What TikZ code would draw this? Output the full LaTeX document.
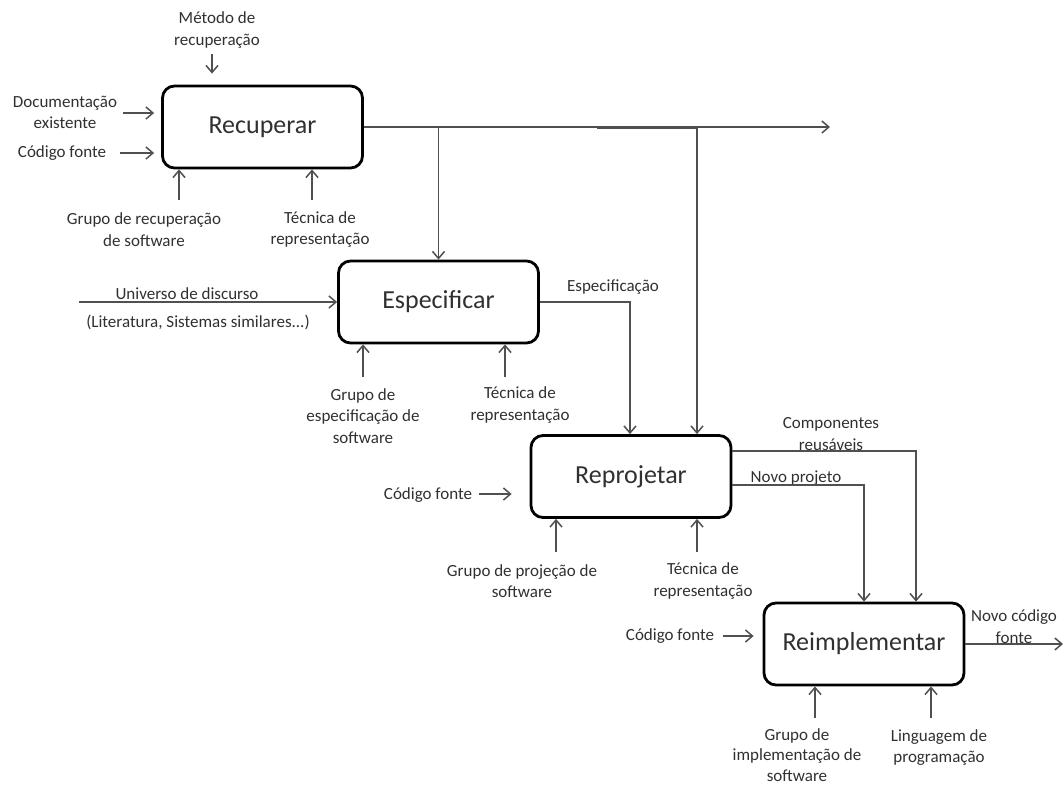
\documentclass[tikz,border=0pt]{standalone}
\usepackage{fontspec}
\setmainfont{Carlito}
\usetikzlibrary{arrows.meta}
\definecolor{conncol}{HTML}{505050}
\definecolor{txtcol}{HTML}{303030}
\tikzset{
  procbox/.style={draw=black, line width=2.8pt, rounded corners=12pt, fill=white,
    minimum width=200pt, minimum height=82pt, inner sep=0pt,
    font=\fontsize{26}{30}\selectfont, text=txtcol},
  lbl/.style={font=\fontsize{17}{21.5}\selectfont, text=txtcol, align=center, inner sep=0pt},
  conn/.style={draw=conncol, line width=1.5pt},
  arr/.style={conn, -{Straight Barb[length=7pt,width=12pt]}}
}
\begin{document}
\begin{tikzpicture}[x=1pt,y=-1pt]
\useasboundingbox (0,0) rectangle (1064,784);
% boxes
\node[procbox] (rec) at (262.5,127) {Recuperar};
\node[procbox] (esp) at (438.5,302) {Especificar};
\node[procbox] (rep) at (631,476.5) {Reprojetar};
\node[procbox] (rei) at (864,644) {Reimplementar};

% Recuperar inputs
\node[lbl] (lMet) at (217,30) {Método de\\recuperação};
\coordinate (mA) at (212,54);
\draw[arr, shorten >=11pt] (mA) -- (mA |- rec.north);
\node[lbl] (lDoc) at (65,112.5) {Documentação\\existente};
\coordinate (dA) at (123,113);
\draw[arr, shorten >=7pt] (dA) -- (dA -| rec.west);
\node[lbl] (lCod1) at (62,153) {Código fonte};
\coordinate (cA) at (120,153);
\draw[arr, shorten >=7pt] (cA) -- (cA -| rec.west);
\node[lbl] (lGr1) at (144,229.5) {Grupo de recuperação\\de software};
\coordinate (g1) at (179,200);
\draw[arr] (g1) -- (g1 |- rec.south);
\node[lbl] (lTec1) at (320,229.5) {Técnica de\\representação};
\coordinate (t1) at (312,200);
\draw[arr] (t1) -- (t1 |- rec.south);

% Recuperar outputs
\coordinate (outEnd) at (830,127);
\draw[arr] (rec.east) -- (outEnd);
\coordinate (jA) at (438.5,127);
\draw[arr] (jA) -- (jA |- esp.north);
\coordinate (jB) at (597,128.5);
\coordinate (tB) at (697,128.5);
\draw[arr] (jB) -- (tB) -- (tB |- rep.north);

% Especificar inputs
\coordinate (uA) at (79,302);
\draw[arr] (uA) -- (esp.west);
\node[lbl, anchor=base] (lUni) at (187,299) {Universo de discurso};
\node[lbl, anchor=base] (lLit) at (198,327) {(Literatura, Sistemas similares...)};
\node[lbl] (lGr2) at (363,416) {Grupo de\\especificação de\\software};
\coordinate (g2) at (363,377);
\draw[arr] (g2) -- (g2 |- esp.south);
\node[lbl] (lTec2) at (520,405) {Técnica de\\representação};
\coordinate (t2) at (505,377);
\draw[arr] (t2) -- (t2 |- esp.south);

% Especificacao output
\coordinate (tC) at (630,302);
\node[lbl, anchor=base] (lEsp) at (613,291) {Especificação};
\draw[arr] (esp.east) -- (tC) -- (tC |- rep.north);

% Reprojetar inputs
\node[lbl] (lCod2) at (428,495) {Código fonte};
\coordinate (cB) at (479,494);
\draw[arr, shorten >=18pt] (cB) -- (cB -| rep.west);
\node[lbl] (lGr3) at (522,581) {Grupo de projeção de\\software};
\coordinate (g3) at (556,552);
\draw[arr] (g3) -- (g3 |- rep.south);
\node[lbl] (lTec3) at (703,581) {Técnica de\\representação};
\coordinate (t3) at (697,552);
\draw[arr] (t3) -- (t3 |- rep.south);

% Reprojetar outputs
\coordinate (cR) at (916,451);
\node[lbl] (lComp) at (831,434) {Componentes\\reusáveis};
\draw[arr] (rep.east |- cR) -- (cR) -- (cR |- rei.north);
\coordinate (cN) at (864,485);
\node[lbl, anchor=base] (lNov) at (796,482) {Novo projeto};
\draw[arr] (rep.east |- cN) -- (cN) -- (cN |- rei.north);

% Reimplementar inputs
\node[lbl] (lCod3) at (670,636) {Código fonte};
\coordinate (cC) at (723,636);
\draw[arr, shorten >=9pt] (cC) -- (cC -| rei.west);
\node[lbl, font=\fontsize{17}{20.5}\selectfont] (lGr4) at (797,755) {Grupo de\\implementação de\\software};
\coordinate (g4) at (815,718);
\draw[arr] (g4) -- (g4 |- rei.south);
\node[lbl] (lLin) at (939,747.5) {Linguagem de\\programação};
\coordinate (t4) at (931,718);
\draw[arr] (t4) -- (t4 |- rei.south);

% Reimplementar output
\coordinate (oEnd) at (1063,644);
\draw[arr] (rei.east) -- (oEnd);
\node[lbl] (lNcf) at (1014,626.5) {Novo código\\fonte};
\end{tikzpicture}
\end{document}
